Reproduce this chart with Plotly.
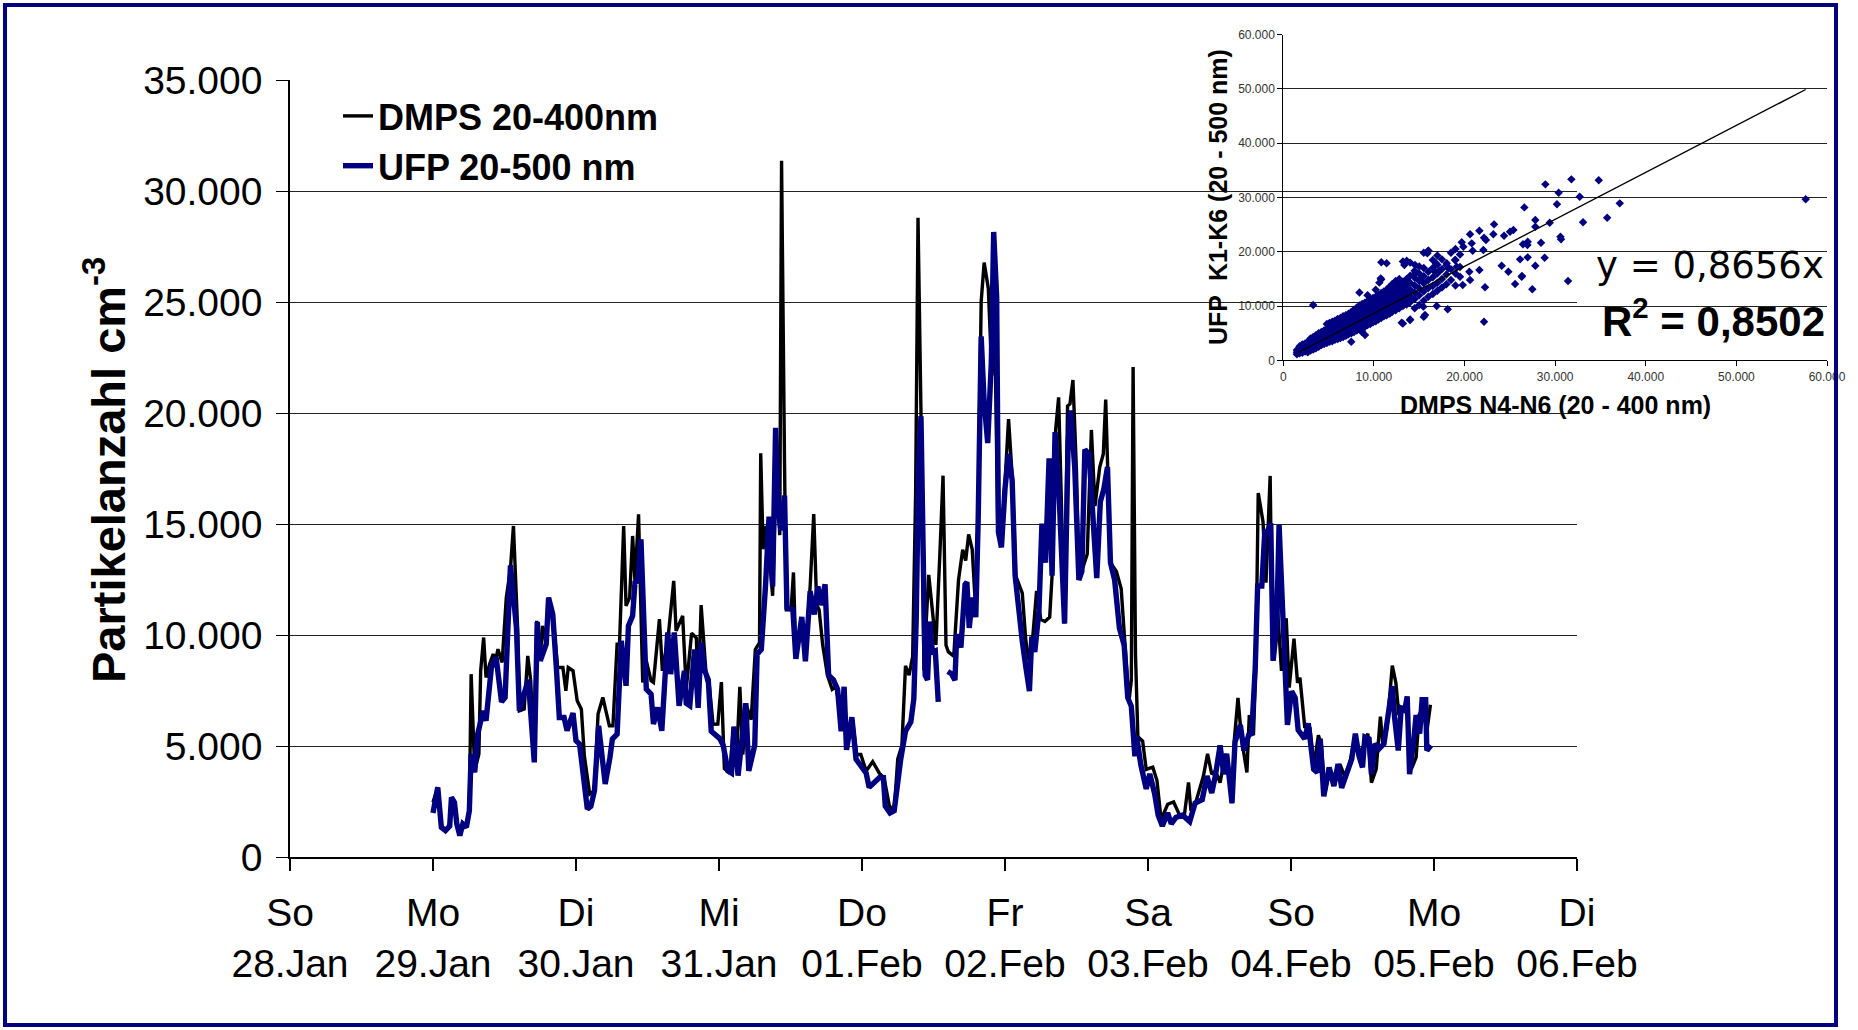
import plotly.graph_objects as go
import pandas as pd

W, H = 1858, 1030

# ---------------- data ----------------
day_ticks = ["2007-01-28", "2007-01-29", "2007-01-30", "2007-01-31", "2007-02-01",
             "2007-02-02", "2007-02-03", "2007-02-04", "2007-02-05", "2007-02-06"]
day_names = ["So", "Mo", "Di", "Mi", "Do", "Fr", "Sa", "So", "Mo", "Di"]
day_dates = ["28.Jan", "29.Jan", "30.Jan", "31.Jan", "01.Feb", "02.Feb",
             "03.Feb", "04.Feb", "05.Feb", "06.Feb"]
y_ticks = [0, 5000, 10000, 15000, 20000, 25000, 30000, 35000]
y_labels = ["0", "5.000", "10.000", "15.000", "20.000", "25.000", "30.000", "35.000"]
inset_ticks = [0, 10000, 20000, 30000, 40000, 50000, 60000]
inset_labels = ["0", "10.000", "20.000", "30.000", "40.000", "50.000", "60.000"]

series_start = "2007-01-29 00:00"

# DMPS 20-400nm : hours since Mo 29.Jan 00:00, particle number cm^-3
dmps_hours = [0, 0.8, 1.4, 2.1, 2.8, 3.1, 3.6, 4.0, 4.5, 5.0, 5.6, 6.1, 6.4, 7.0, 7.7, 8.0, 8.5, 8.9,
              9.5, 10.1, 10.5, 10.9, 11.6, 12.3, 13.0, 13.5, 14.2, 14.5, 15.3, 15.9, 16.4, 17.0,
              17.4, 18.0, 18.4, 19.0, 19.4, 20.1, 20.9, 21.8, 22.3, 22.7, 23.5, 24.2, 24.9, 25.4,
              26.3, 27.1, 27.7, 28.5, 29.6, 30.2, 30.9, 31.3, 32.0, 32.4, 33.0, 33.5, 33.9, 34.5,
              35.2, 35.8, 36.6, 37.0, 38.0, 38.5, 39.4, 40.4, 40.8, 41.9,
              42.5, 43.4, 44.2, 44.5, 45.0, 45.9, 46.4, 47.0, 47.8, 48.4, 48.9, 49.8, 50.3, 50.9,
              51.5, 52.0, 52.6, 53.4, 54.1, 54.8, 55.0, 55.4, 55.9, 56.5, 57.0, 57.6, 58.2, 58.5,
              59.0, 59.3, 60.1, 60.5, 60.9, 61.8, 62.5, 63.3, 63.9, 64.4, 64.8, 65.4, 66.2, 67.0,
              67.6, 68.3, 69.0, 69.6, 70.4, 71.1, 71.8, 72.7, 73.8, 74.9, 75.7, 76.6, 77.4, 78.0,
              78.7, 79.3, 79.9, 80.5, 81.0, 81.4, 81.9, 82.4, 82.8, 83.2, 83.8, 84.4,
              85.1, 85.6, 86.1, 86.5, 87.4, 88.2, 88.9, 89.4, 89.9, 90.5, 91.1, 91.5, 92.0, 92.5,
              93.2, 93.8, 94.2, 94.8, 95.4, 96.0, 96.6, 97.2, 97.8, 98.9, 99.5, 100.1, 100.6,
              101.3, 102.0, 102.7, 103.5, 103.9, 104.5, 105.0, 105.5, 106.0, 106.5, 106.9, 107.4,
              108.0, 108.4, 109.1, 109.8, 110.5, 111.1, 111.9, 112.5, 112.9, 113.4, 113.7, 114.7,
              115.5, 116.4, 116.8, 117.2, 117.5, 117.9, 118.3, 119.1, 119.7, 120.8, 121.5, 122.2,
              123.3, 124.3, 125.3, 126.1, 126.8, 127.2,
              127.9, 129.3, 130.0, 130.7, 131.3, 132.1, 133.0, 133.5, 134.1, 134.5, 135.1, 135.7,
              136.6, 137.0, 137.7, 138.1, 138.5, 139.3, 139.8, 140.5, 140.9, 141.6, 142.4, 143.2,
              143.7, 144.5, 145.1, 145.5, 146.3, 147.2, 147.8, 148.6, 149.1, 149.7, 150.5, 151.4,
              152.2, 153.0, 153.9, 154.7, 155.3, 156.1, 156.9, 157.5, 158.3, 159.0, 159.4, 160.1,
              161.0, 161.6, 162.1, 162.8, 163.5, 164.2, 165.0, 165.5, 166.1, 166.8, 167.4]
dmps_values = [2475, 3150, 1400, 1250, 1450, 2700, 2500, 1550, 1000, 1550, 1400, 2100, 8250, 3900,
               4650, 8400, 9900, 8100, 8700, 9150, 8850, 9375, 8775, 11700, 13000, 14925, 10350,
               6600, 6675, 9075, 7950, 4350, 10650, 9000, 10425, 9600, 11700, 10950, 8550, 8550,
               7500, 8550, 8400, 7050, 6675, 4575, 2850, 3000, 6450, 7200, 5925, 5925, 9600, 9600,
               14925, 11325, 11700, 14475, 12450, 15450, 7875, 8850, 7950, 7875, 10725, 8400, 9750,
               12450, 10200, 10875,
               7570, 10100, 9880, 7150, 11360, 8000, 7680, 5990, 6000, 7890, 4000, 3790, 5470,
               4210, 7680, 4630, 6830, 6200, 9360, 9670, 18200, 13880, 14930, 13460, 11780, 17670,
               14510, 31380, 17670, 11150, 11150, 12830, 9040, 10620, 9040, 12200, 15460, 11360,
               11150, 9570, 8200, 7570, 7680, 6730, 7260, 5260, 6200, 4630, 4630, 3890, 4310, 3790,
               3580, 2310, 2100, 4420, 5050, 8620, 8200, 9040, 16400, 28810, 19980, 8410, 10730,
               12720, 11150, 9570,
               13860, 17190, 9550, 9250, 9060, 12490, 13860, 13370, 14540, 13860, 11020, 15430,
               25030, 26790, 25620, 21700, 25420, 14640, 14050, 16600, 19740, 17190, 12680, 11900,
               9740, 8760, 9740, 12000, 10720, 10620, 10820, 12680, 19250, 20720, 15230, 10530,
               20330, 20420, 21500, 17390, 12680, 13070, 13660, 19250, 15820, 17580, 18170, 20620,
               16010, 13270, 12880, 12090, 8570, 7000, 7980, 22090, 9150, 5430, 5230, 3960, 4060,
               3470, 1700, 2390, 2490, 1900, 1900, 3370, 2100,
               2370, 3660, 4660, 3740, 3890, 3360, 4660, 3820, 2440, 5340, 7180, 5340, 3820, 6410,
               5500, 8700, 16410, 15120, 12370, 17180, 8860, 11760, 8400, 10770, 7640, 9850, 7860,
               8090, 5880, 5800, 4050, 5500, 5040, 2900, 3970, 3510, 4200, 3660, 4280, 5420, 4660,
               4960, 5570, 3360, 3970, 6340, 5110, 5800, 8630, 7860, 6410, 6800, 6410, 3970, 4500,
               6410, 6720, 5650, 6870]

# UFP 20-500 nm (None = gap in the record)
ufp_hours = [0, 0.8, 1.4, 2.1, 2.8, 3.1, 3.6, 4.0, 4.5, 5.0, 5.6, 6.1, 6.4, 7.0, 7.5, 8.4, 8.9, 9.8,
             10.6, 11.5, 12.1, 13.0, 14.0, 14.5, 15.1, 16.0, 17.0, 17.5, 18.0, 19.0, 19.4, 20.1,
             20.7, 21.2, 22.0, 22.5, 23.5, 24.0, 24.6, 25.3, 25.9, 26.5, 27.1, 27.8, 28.5, 28.9,
             29.7, 30.1, 30.9, 31.6, 32.4, 32.8, 33.5, 33.9, 34.4, 34.9, 35.8, 36.6, 37.0, 37.7,
             38.4, 39.4, 39.9, 40.5, 41.3, 42.2,
             42.5, 43.1, 43.9, 44.5, 45.0, 45.6, 46.2, 46.7, 47.6, 48.1, 48.7, 49.5, 50.1, 50.5,
             51.2, 51.7, 52.5, 53.0, 54.0, 54.4, 55.1, 55.8, 56.4, 57.0, 57.5, 58.0, 58.4, 59.0,
             59.4, 60.4, 60.9, 61.9, 62.5, 63.3, 64.0, 64.6, 65.1, 65.8, 66.4, 67.2, 67.9, 68.5,
             69.0, 69.4, 70.3, 71.0, 71.8, 72.7, 73.2, 74.0, 74.9, 75.6, 75.9, 76.7, 77.4, 78.5,
             79.3, 80.2, 80.7, 81.1, 81.5, 81.9, 82.1, 82.6, 83.0, 83.4, 83.8, 84.3, 84.8, 85.6,
             86.4, 87.0, 87.6, 87.9, 88.6, 89.3, 89.6, 90.0, 90.5, 91.1, 91.5, 92.0, 92.5, 93.1,
             93.7, 94.1, 94.6, 94.9, 95.4, 96.0, 96.6, 97.2, 97.7, 98.2, 98.9, 99.5, 100.1, 100.5,
             101.0, 101.7, 102.2, 102.8, 103.4, 103.9, 104.4, 105.0, 105.5, 106.0, 106.6, 107.0,
             107.7, 108.4, 108.9, 109.4, 110.1, 110.8, 111.4, 112.0, 112.6, 113.2, 113.7, 114.4,
             115.2, 116.0, 116.6, 117.2, 117.8, 118.1, 118.8, 119.7, 120.3, 121.1, 121.7, 122.4,
             123.3, 123.9, 124.7, 125.8, 127.0,
             127.9, 129.1, 129.9, 130.7, 131.3, 132.1, 132.7, 133.2, 134.1, 134.6, 135.5, 136.1,
             136.9, 137.4, 138.0, 138.4, 139.1, 139.6, 140.0, 140.6, 141.0, 141.6, 142.0, 142.6,
             143.4, 144.1, 144.7, 145.2, 146.3, 146.9, 147.8, 148.4, 148.9, 149.5, 150.4, 151.2,
             151.9, 152.5, 153.3, 154.2, 154.8, 155.4, 156.0, 156.4, 157.1, 157.5, 158.1, 158.8,
             159.6, 160.3, 161.0, 161.4, 162.0, 162.5, 163.1, 163.5, 163.9, 164.6, 165.0, 165.6,
             166.0, 166.6, 166.8, 167.5]
ufp_values = [2000, 3150, 1350, 1200, 1400, 2700, 2475, 1500, 975, 1500, 1350, 2100, 4650, 3825,
              5550, 6600, 6150, 8550, 9000, 7000, 7200, 13150, 10350, 6600, 7200, 8000, 4275,
              10600, 8850, 9600, 11700, 10950, 8550, 6300, 6300, 5700, 6500, 5250, 5100, 3450,
              2175, 2300, 3000, 5925, 3900, 3300, 4500, 5325, 5550, 9750, 7725, 10425, 10875,
              12375, 12450, 14325, 7575, 7350, 6000, 6750, 5700, 10125, 8250, 10125, 6825, 8400,
              6940, 6830, 9360, 6730, 9670, 8410, 7990, 5680, 5470, 5360, 5050, 3890, 3790, 5890,
              3680, 5150, 6940, 3890, 5050, 9150, 9360, 12200, 15350, 12200, 19350, 15560, 14720,
              16300, 11250, 11150, 8940, 10830, 8830, 11990, 10940, 12200, 11360, 12300, 8200,
              7990, 7570, 5680, 7680, 4840, 6310, 4420, 4100, 3790, 3150, 3360, 3580, 3580, 2310,
              2000, 2100, 4420, 5680, 6100, 7150, 10730, 17670, 19870, 15560, 8200, 7990, 10620,
              9250, 9300, 7000, None,
              8370, 8270, 7980, 10040, 9450, 12290, 12390, 10330, 11700, 10820, 15230, 23460,
              20520, 18660, 22290, 28170, 25230, 14640, 13960, 16600, 18170, 16990, 12680, 11310,
              9740, 8570, 7490, 9940, 9250, 11110, 15030, 13270, 17970, 12680, 19150, 16800,
              13470, 10530, 18760, 20130, 17580, 12490, 12880, 18370, 18170, 14840, 12580, 16010,
              16600, 17580, 13270, 12490, 10330, 9550, 7190, 6800, 4550, 5430, 4160, 3080, 3760,
              2880, 1900, 1410, 2000, 1510, 1800, 1900, 1610,
              2440, 2600, 3660, 2900, 3660, 5040, 3740, 4660, 2440, 5190, 5960, 4810, 5500, 5570,
              8550, 12220, 12220, 14660, 14660, 15040, 8860, 10380, 14970, 10690, 5960, 7480,
              7180, 5730, 5340, 6030, 3970, 3820, 5340, 2750, 4050, 3210, 4200, 3130, 3740, 4430,
              5570, 4580, 4050, 5420, 5340, 3740, 5110, 4890, 5110, 6410, 7710, 6260, 4810, 6720,
              6640, 7250, 3740, 5270, 6410, 5570, 7100, 7100, 4810, 5040]

# Inset scatter: DMPS N4-N6 (x) vs UFP K1-K6 (y) (thousands)
cloud_x = [1.5, 1.8, 2.1, 2.4, 2.7, 3.0, 3.3, 3.6, 3.9, 4.2, 4.5, 4.8, 5.1, 5.4, 5.7, 6.0, 6.3,
           6.6, 6.9, 7.2, 7.5, 7.8, 8.1, 8.4, 8.7, 9.0, 9.3, 9.6, 9.9, 10.2, 10.5, 10.8, 11.1,
           11.4, 11.7, 12.0, 12.4, 12.8, 13.2, 13.6, 14.0, 14.5, 15.0, 15.5, 16.0, 16.5, 17.0,
           17.5, 18.0, 18.5, 19.0, 19.5]
cloud_y = [[1.1, 1.5, 1.9], [1.3, 2.0, 2.6], [1.4, 1.8, 2.4, 2.9], [1.6, 2.2, 2.7, 3.1],
           [1.5, 2.0, 2.5, 3.0, 3.4], [1.8, 2.3, 2.8, 3.3, 4.0], [2.0, 2.6, 3.1, 3.6, 4.3, 10.2],
           [2.2, 2.9, 3.4, 4.0, 4.6], [2.5, 3.1, 3.7, 4.3, 5.0], [2.8, 3.3, 3.9, 4.5, 5.2],
           [3.0, 3.6, 4.2, 4.8, 5.5], [3.2, 3.9, 4.5, 5.1, 5.8, 6.7], [3.4, 4.1, 4.7, 5.4, 6.1, 6.9],
           [3.5, 4.4, 5.0, 5.6, 6.3, 7.1], [3.8, 4.6, 5.3, 6.0, 6.7, 7.3],
           [3.9, 4.8, 5.5, 6.2, 6.9, 7.6], [4.1, 5.0, 5.8, 6.5, 7.2, 7.8],
           [4.3, 5.2, 6.0, 6.8, 7.5, 8.1], [4.5, 5.4, 6.3, 7.0, 7.7, 8.3],
           [4.8, 5.6, 6.5, 7.3, 8.0, 8.6], [3.4, 5.0, 5.9, 6.8, 7.5, 8.3, 8.9],
           [5.2, 6.1, 7.0, 7.8, 8.6, 9.3], [5.5, 6.4, 7.3, 8.1, 8.9, 9.7],
           [5.7, 6.6, 7.5, 8.4, 9.2, 10.1, 12.5], [5.3, 6.0, 6.9, 7.8, 8.7, 9.5, 10.4],
           [6.2, 7.1, 8.1, 9.0, 9.8, 10.6], [6.5, 7.4, 8.4, 9.2, 10.1, 10.9, 12.0],
           [6.7, 7.7, 8.6, 9.5, 10.4, 11.2], [7.0, 8.0, 8.9, 9.8, 10.6, 11.5],
           [7.2, 8.2, 9.2, 10.1, 10.9, 11.7, 13.0], [7.5, 8.5, 9.5, 10.3, 11.2, 12.0],
           [7.8, 8.8, 9.7, 10.6, 11.5, 12.4, 14.9], [8.1, 9.1, 10.0, 10.9, 11.8, 12.7],
           [8.3, 9.3, 10.3, 11.2, 12.1, 13.0, 17.9], [8.6, 9.6, 10.5, 11.5, 12.4, 13.5],
           [8.9, 9.9, 10.8, 11.8, 12.8, 14.0], [9.2, 10.2, 11.2, 12.2, 13.3, 14.6],
           [9.6, 10.6, 11.6, 12.7, 13.9, 15.0], [6.8, 10.0, 11.0, 12.1, 13.2, 14.5, 18.2],
           [10.3, 11.4, 12.6, 13.8, 15.0], [7.5, 10.7, 11.8, 13.0, 14.3, 15.6, 18.0],
           [9.6, 11.3, 12.5, 13.8, 15.2, 16.5], [10.2, 12.0, 13.3, 14.6, 16.0, 17.3],
           [8.0, 11.0, 12.7, 14.2, 15.5, 17.0, 19.8], [11.7, 13.3, 14.8, 16.3, 20.2],
           [12.2, 13.7, 15.3, 17.0, 18.5], [12.8, 14.3, 16.0, 17.6, 19.3],
           [13.4, 15.0, 16.8, 18.6], [14.0, 15.8, 17.5], [14.8, 16.8, 19.8],
           [13.8, 16.0, 18.5, 20.5], [15.4, 17.2, 19.5]]
outlier_x = [57650, 31790, 34810, 28920, 30390, 32710, 30200, 37130, 35740, 33080, 29400, 27810,
             27810, 26600, 30580, 30650, 28440, 26970, 26450, 28840, 26970, 27810, 26340, 31420,
             27480, 23260, 21640, 22370, 23180, 24360, 25020, 25390, 26940, 26130, 24100, 24840,
             25580, 26310, 22150, 22080, 20900, 20790, 19870, 19690, 20610, 18950, 19140, 18030,
             18220, 19800, 20530, 20610, 21640, 22260, 22150, 18140, 16930, 16740, 16010, 15900,
             16850, 17220, 14540, 13620, 13360, 10820, 14350, 15090, 15460, 15640, 13980, 13060,
             12140, 11780, 10750, 10600, 8650, 9020]
outlier_y = [29660, 33340, 33160, 32420, 30880, 30150, 28740, 28920, 26280, 25420, 25360, 25850,
             24620, 28180, 22780, 22290, 21670, 21860, 21370, 18910, 18970, 17440, 15530, 14610,
             13080, 25050, 23880, 22170, 23210, 22960, 23700, 24010, 21240, 18600, 17440, 16330,
             14060, 15410, 22600, 20320, 20200, 21550, 20940, 21740, 23210, 18480, 17250, 17870,
             16950, 13880, 16330, 14800, 16640, 13450, 7120, 9390, 10010, 16330, 20200, 19710,
             17870, 16460, 17560, 18360, 17560, 18050, 15720, 14800, 9890, 8350, 7430, 6940,
             10380, 8660, 15100, 14310, 5280, 4670]
trend_slope = 0.8656
r_squared_text = "0,8502"

# ---------------- helpers ----------------
def px(xp):
    return xp / W

def py(yp):
    return 1 - yp / H

start = pd.Timestamp(series_start)
dmps_t = start + pd.to_timedelta(dmps_hours, unit="h")
ufp_t = start + pd.to_timedelta(ufp_hours, unit="h")

sc_x = []
sc_y = []
for cx, ys in zip(cloud_x, cloud_y):
    for v in ys:
        sc_x.append(cx * 1000)
        sc_y.append(v * 1000)
sc_x += outlier_x
sc_y += outlier_y
trend_x = [min(sc_x), max(sc_x)]
trend_y = [trend_slope * v for v in trend_x]

FONT = "Liberation Sans, Arial, sans-serif"
NAVY = "#000080"

fig = go.Figure()
fig.add_trace(go.Scatter(x=dmps_t, y=dmps_values, mode="lines", name="DMPS 20-400nm",
                         line=dict(color="black", width=3.4)))
fig.add_trace(go.Scatter(x=ufp_t, y=ufp_values, mode="lines", name="UFP 20-500 nm",
                         line=dict(color=NAVY, width=5.4), connectgaps=False))
fig.add_trace(go.Scatter(x=sc_x, y=sc_y, mode="markers", xaxis="x2", yaxis="y2", showlegend=False,
                         marker=dict(symbol="diamond", size=6.5, color=NAVY, line=dict(width=0))))
fig.add_trace(go.Scatter(x=trend_x, y=trend_y, mode="lines", xaxis="x2", yaxis="y2",
                         showlegend=False, line=dict(color="black", width=1.4)))

fig.update_layout(
    template="none",
    width=W, height=H, autosize=False,
    margin=dict(l=0, r=0, t=0, b=0, pad=0, autoexpand=False),
    paper_bgcolor="white", plot_bgcolor="rgba(0,0,0,0)",
    font=dict(family=FONT, color="black"),
    xaxis=dict(domain=[px(290), px(1577)], type="date", range=[day_ticks[0], day_ticks[-1]],
               tickvals=day_ticks, ticktext=[f"{n}<br>{d}" for n, d in zip(day_names, day_dates)],
               ticks="outside", ticklen=12, tickcolor="black", tickwidth=1.5,
               showline=True, linecolor="black", linewidth=1.5, showgrid=False, zeroline=False,
               tickfont=dict(size=39, family=FONT), anchor="y", automargin=False,
               ticklabelstandoff=8),
    yaxis=dict(domain=[py(857.3), py(80.3)], range=[0, 35000], tickvals=y_ticks, ticktext=y_labels,
               ticks="outside", ticklen=12, tickcolor="black", tickwidth=1.2,
               showline=True, linecolor="black", linewidth=1.5, showgrid=True,
               gridcolor="#222222", gridwidth=1.2, zeroline=False,
               tickfont=dict(size=39, family=FONT), anchor="x", automargin=False,
               ticklabelstandoff=6),
    xaxis2=dict(domain=[px(1283.3), px(1827)], range=[0, 60000], tickvals=inset_ticks,
                ticktext=inset_labels, ticks="outside", ticklen=5, tickcolor="black",
                showline=True, linecolor="black", linewidth=1, showgrid=False, zeroline=False,
                tickfont=dict(size=12, family=FONT, color="#333333"), anchor="y2",
                automargin=False),
    yaxis2=dict(domain=[py(360.3), py(34.7)], range=[0, 60000], tickvals=inset_ticks,
                ticktext=inset_labels, ticks="outside", ticklen=5, tickcolor="black",
                showline=True, linecolor="black", linewidth=1, showgrid=True,
                gridcolor="#222222", gridwidth=1, zeroline=False,
                tickfont=dict(size=12, family=FONT, color="#333333"), anchor="x2",
                automargin=False),
    legend=dict(x=px(338), y=py(86), xanchor="left", yanchor="top",
                bgcolor="rgba(0,0,0,0)", borderwidth=0,
                font=dict(size=36, family=FONT, weight="bold"), tracegroupgap=0),
    shapes=[dict(type="rect", xref="paper", yref="paper", x0=px(5), x1=px(1836),
                 y0=py(1025), y1=py(5), line=dict(color=NAVY, width=4), layer="above")],
    annotations=[
        dict(text="<b>Partikelanzahl cm<sup>-3</sup></b>", textangle=-90, xref="paper",
             yref="paper", x=px(105), y=py(470), xanchor="center", yanchor="middle",
             showarrow=False, font=dict(size=47, family=FONT)),
        dict(text="<b>UFP\u00a0 K1-K6 (20 - 500 nm)</b>", textangle=-90, xref="paper",
             yref="paper", x=px(1218), y=py(197), xanchor="center", yanchor="middle",
             showarrow=False, font=dict(size=25, family=FONT)),
        dict(text="<b>DMPS N4-N6 (20 - 400 nm)</b>", xref="paper", yref="paper",
             x=px(1555), y=py(405), xanchor="center", yanchor="middle",
             showarrow=False, font=dict(size=25, family=FONT)),
        dict(text=f"y = {str(trend_slope).replace('.', ',')}x", xref="paper", yref="paper",
             x=px(1826), y=py(265), xanchor="right", yanchor="middle",
             showarrow=False, font=dict(size=37, family="DejaVu Sans")),
        dict(text=f"<b>R<sup>2</sup> = {r_squared_text}</b>", xref="paper", yref="paper",
             x=px(1827), y=py(318), xanchor="right", yanchor="middle",
             showarrow=False, font=dict(size=42, family=FONT)),
    ],
)

fig.write_html("out.html")
